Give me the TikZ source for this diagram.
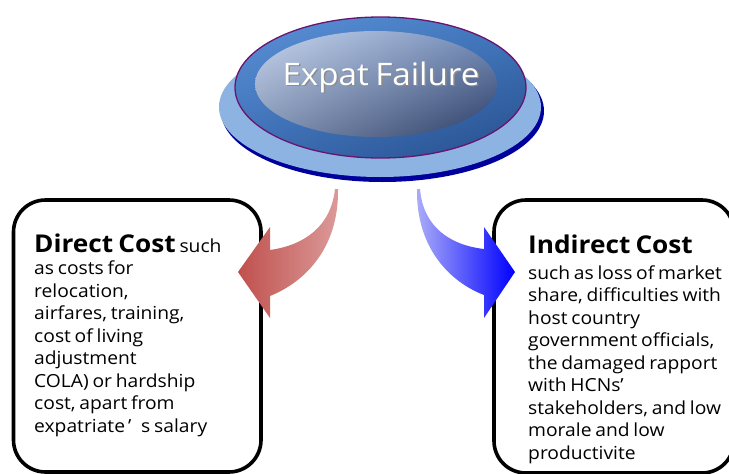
\documentclass[tikz,border=0pt]{standalone}
\usepackage{fontspec}
\setmainfont{Open Sans}[FakeStretch=1.07,WordSpace=0.75]
\usetikzlibrary{shadings}
\begin{document}
\begin{tikzpicture}[x=1pt,y=-1pt,
  cbox/.style={draw=black,line width=3.6pt,rounded corners=32pt},
  body/.style={anchor=base west,inner sep=0pt,font=\fontsize{18}{22.5}\selectfont},
  head/.style={anchor=base west,inner sep=0pt,font=\fontsize{24.5}{30}\selectfont\bfseries}]
\definecolor{redD}{HTML}{C0504D}
\definecolor{redL}{HTML}{DB9B9A}
\definecolor{bluL}{HTML}{ABADF8}
\definecolor{bluD}{HTML}{0000FF}
\definecolor{ltblue}{HTML}{8DB3E2}
\definecolor{dkblue}{HTML}{00009C}
\definecolor{purp}{HTML}{6A1470}
\definecolor{rUL}{RGB}{92,146,216}
\definecolor{rUR}{RGB}{66,120,190}
\definecolor{rLL}{RGB}{60,110,180}
\definecolor{rLR}{RGB}{38,78,140}
\definecolor{iUL}{RGB}{200,214,238}
\definecolor{iUR}{RGB}{118,142,186}
\definecolor{iLL}{RGB}{130,148,180}
\definecolor{iLR}{RGB}{44,60,100}
\useasboundingbox (0,0) rectangle (729,474);
\fill[white] (0,0) rectangle (729,474);
% boxes
\draw[cbox] (13.5,200) rectangle (261,472);
\draw[cbox] (494,200) rectangle (734,473);
% red arrow
\shade[left color=redD,right color=redL]
  (238,272) -- (270,227) -- (270,250)
  .. controls (305,245) and (331,226) .. (335,189)
  -- (338,189)
  .. controls (339,248) and (305,282) .. (270,296)
  -- (270,318) -- cycle;
% blue arrow
\shade[left color=bluL,right color=bluD]
  (515,272) -- (484,227) -- (484,249)
  .. controls (449,245) and (423,226) .. (420,189)
  -- (417,189)
  .. controls (416,248) and (450,282) .. (484,295)
  -- (484,318) -- cycle;
% ellipses
\fill[dkblue] (382.5,111) ellipse [x radius=161.5,y radius=71];
\fill[ltblue] (380,107) ellipse [x radius=161,y radius=70];
\shade[upper left=rUL,upper right=rUR,lower left=rLL,lower right=rLR]
  (380.5,87.5) ellipse [x radius=145.5,y radius=70.5];
\draw[purp,line width=1.3pt] (380.5,87.5) ellipse [x radius=145.5,y radius=70.5];
\shade[upper left=iUL,upper right=iUR,lower left=iLL,lower right=iLR]
  (376,84) ellipse [x radius=121,y radius=53];
% title
\node[anchor=base,inner sep=0pt,text=black!45,font=\fontsize{31}{36}\selectfont] (tshadow) at (382.5,86.5) {Expat Failure};
\node[anchor=base,inner sep=0pt,text=white,font=\fontsize{31}{36}\selectfont] (title) at (381,85) {Expat Failure};
% left text
\node[body] (d1) at (34,252) {{\fontsize{24.5}{30}\selectfont\bfseries Direct Cost} such};
\node[body] (d2) at (34,274.5) {as costs for};
\node[body] (d3) at (34,297) {relocation,};
\node[body] (d4) at (34,319.5) {airfares, training,};
\node[body] (d5) at (34,342) {cost of living};
\node[body] (d6) at (34,364.5) {adjustment};
\node[body] (d7) at (34,387) {COLA) or hardship};
\node[body] (d8) at (34,409.5) {cost, apart from};
\node[body] (d9) at (34,432) {expatriate\,’\hspace{0.55em}s salary};
% right text
\node[head] (i1) at (528,253.3) {Indirect Cost};
\node[body] (i2) at (528,279) {such as loss of market};
\node[body] (i3) at (528,301.5) {share, difficulties with};
\node[body] (i4) at (528,324) {host country};
\node[body] (i5) at (528,346.5) {government officials,};
\node[body] (i6) at (528,369) {the damaged rapport};
\node[body] (i7) at (528,391.5) {with HCNs’};
\node[body] (i8) at (528,414) {stakeholders, and low};
\node[body] (i9) at (528,436.5) {morale and low};
\node[body] (i10) at (528,459) {productivite};
\end{tikzpicture}
\end{document}
